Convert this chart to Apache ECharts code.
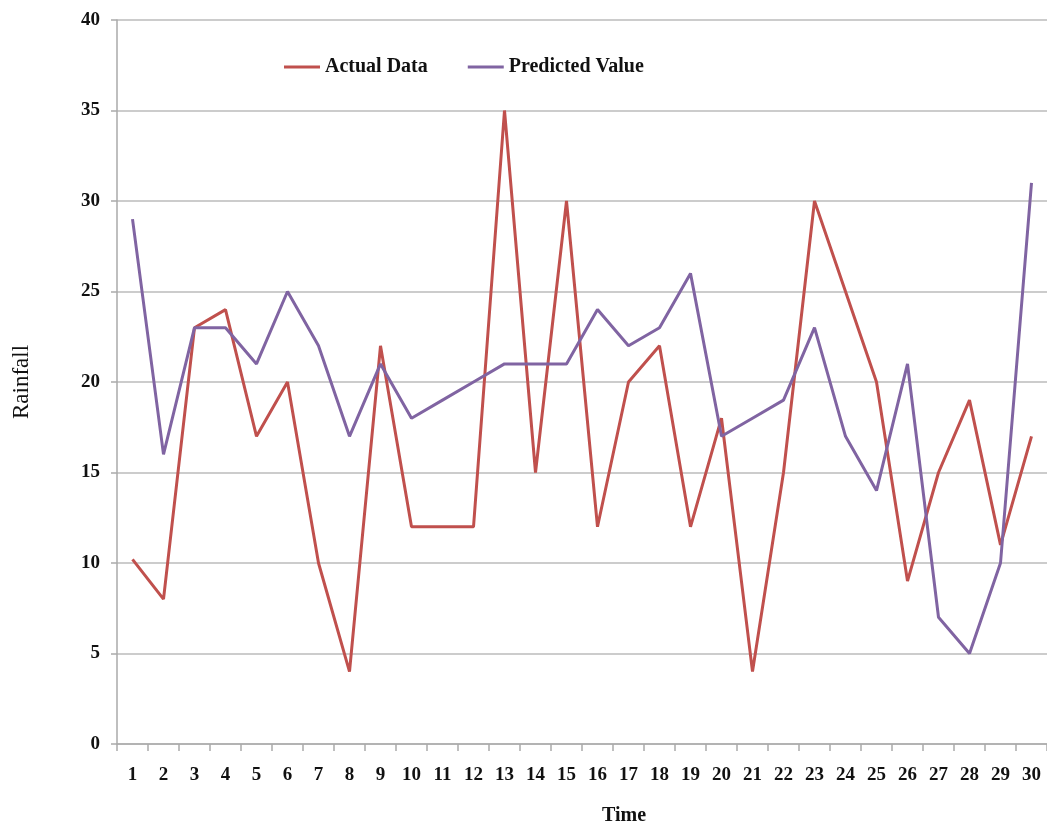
<!DOCTYPE html>
<html lang="en">
<head>
  <meta charset="UTF-8">
  <title>Rainfall: Actual vs Predicted</title>
  <script src="https://cdn.jsdelivr.net/npm/echarts@6/dist/echarts.min.js"></script>
  <style>
    html, body {
      margin: 0;
      padding: 0;
      background: #fff;
    }

    #main {
      width: 1047px;
      height: 825px;
    }
  </style>
</head>
<body>
  <div id="main"></div>

  <script type="text/javascript">
    var times = ['1', '2', '3', '4', '5', '6', '7', '8', '9', '10',
      '11', '12', '13', '14', '15', '16', '17', '18', '19', '20',
      '21', '22', '23', '24', '25', '26', '27', '28', '29', '30']

    var actualData = [10.2, 8, 23, 24, 17, 20, 10, 4, 22, 12,
      12, 12, 35, 15, 30, 12, 20, 22, 12, 18,
      4, 15, 30, 25, 20, 9, 15, 19, 11, 17]

    var predictedValue = [29, 16, 23, 23, 21, 25, 22, 17, 21, 18,
      19, 20, 21, 21, 21, 24, 22, 23, 26, 17,
      18, 19, 23, 17, 14, 21, 7, 5, 10, 31]

    var serif = '"Liberation Serif", "DejaVu Serif", serif'

    var myChart = echarts.init(document.getElementById('main'))

    var option = {
      animation: false,
      backgroundColor: '#fff',
      textStyle: { fontFamily: serif },
      legend: {
        left: 279,
        top: 52,
        itemWidth: 36,
        itemHeight: 3,
        itemGap: 40,
        icon: 'rect',
        textStyle: {
          fontFamily: serif,
          fontSize: 20,
          fontWeight: 'bold',
          color: '#111'
        },
        data: ['Actual Data', 'Predicted Value']
      },
      // x axis title sits right of the axis centre in the original
      graphic: [
        {
          type: 'text',
          left: 602,
          top: 806,
          style: {
            text: 'Time',
            font: 'bold 20px ' + serif,
            fill: '#111'
          }
        }
      ],
      grid: {
        left: 117,
        width: 936,
        top: 20,
        height: 724,
        containLabel: false
      },
      xAxis: {
        type: 'category',
        data: times,
        boundaryGap: true,
        axisLine: { lineStyle: { color: '#aaa', width: 1.5 } },
        axisTick: { show: true, length: 7, lineStyle: { color: '#aaa', width: 1.5 } },
        axisLabel: {
          interval: 0,
          margin: 22,
          fontFamily: serif,
          fontSize: 19,
          fontWeight: 'bold',
          color: '#111'
        }
      },
      yAxis: {
        type: 'value',
        min: 0,
        max: 40,
        interval: 5,
        name: 'Rainfall',
        nameLocation: 'middle',
        nameGap: 84,
        nameRotate: 90,
        nameTextStyle: {
          fontFamily: serif,
          fontSize: 23,
          color: '#111'
        },
        axisLine: { show: true, lineStyle: { color: '#aaa', width: 1.5 } },
        axisTick: { show: true, length: 6, lineStyle: { color: '#aaa', width: 1.5 } },
        axisLabel: {
          margin: 17,
          fontFamily: serif,
          fontSize: 19,
          fontWeight: 'bold',
          color: '#111'
        },
        splitLine: { lineStyle: { color: '#bbb', width: 1.5 } }
      },
      series: [
        {
          name: 'Actual Data',
          type: 'line',
          data: actualData,
          symbol: 'none',
          color: '#C0504D',
          lineStyle: { width: 3, color: '#C0504D' }
        },
        {
          name: 'Predicted Value',
          type: 'line',
          data: predictedValue,
          symbol: 'none',
          color: '#8064A2',
          lineStyle: { width: 3, color: '#8064A2' }
        }
      ]
    }

    myChart.setOption(option)
  </script>
</body>
</html>
